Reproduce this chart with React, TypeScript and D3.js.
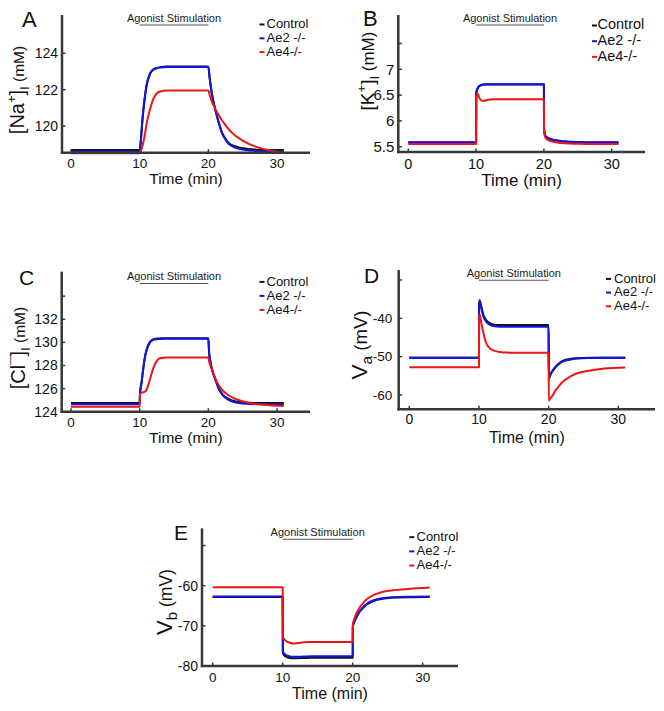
import React from "react";
import * as d3 from "d3";

// ---------- DATA ----------
const SERIES = ["Control", "Ae2 -/-", "Ae4-/-"];
const X_TICKS = [0, 10, 20, 30];
const STIM_WINDOW = [10, 20];
const STIM_LABEL = "Agonist Stimulation";

// Panel A: [Na+]i (mM)
const T_A = [0, 10, 10.2, 10.4, 10.7, 11, 11.5, 12, 12.5, 13, 14, 20, 20.2, 20.5, 21, 21.5, 22, 22.5, 23, 24, 25, 27, 29, 31];
const NA_CONTROL = [118.68, 118.68, 119.35, 120.35, 121.45, 122.25, 122.88, 123.12, 123.2, 123.24, 123.27, 123.27, 122.62, 121.82, 120.92, 120.22, 119.64, 119.3, 119.06, 118.87, 118.77, 118.7, 118.68, 118.68];
const NA_AE2 = [118.6, 118.6, 119.3, 120.3, 121.4, 122.2, 122.85, 123.1, 123.18, 123.22, 123.25, 123.25, 122.6, 121.8, 120.9, 120.2, 119.6, 119.25, 119.0, 118.8, 118.7, 118.63, 118.6, 118.6];
const NA_AE4 = [118.5, 118.5, 118.65, 118.9, 119.4, 120.1, 120.9, 121.5, 121.8, 121.9, 121.95, 121.95, 121.7, 121.35, 120.95, 120.6, 120.3, 120.05, 119.8, 119.45, 119.2, 118.85, 118.65, 118.52];
const NA_TICKS = [120, 122, 124];

// Panel B: [K+]i (mM)
const T_B = [0, 10, 10.02, 10.2, 10.5, 11, 11.5, 12, 13, 20, 20.02, 20.2, 20.5, 21, 22, 23, 25, 27, 31];
const K_CONTROL = [5.58, 5.58, 6.54, 6.62, 6.675, 6.7, 6.705, 6.705, 6.705, 6.705, 5.84, 5.715, 5.675, 5.645, 5.615, 5.6, 5.585, 5.58, 5.58];
const K_AE2 = [5.585, 5.585, 6.55, 6.63, 6.68, 6.705, 6.71, 6.71, 6.71, 6.71, 5.85, 5.72, 5.68, 5.65, 5.62, 5.605, 5.59, 5.585, 5.585];
const K_AE4 = [5.55, 5.55, 6.45, 6.53, 6.44, 6.385, 6.4, 6.415, 6.42, 6.42, 5.8, 5.68, 5.64, 5.61, 5.58, 5.565, 5.555, 5.55, 5.55];
const K_TICKS = [5.5, 6, 6.5, 7];
const K_MINOR = [7.5];

// Panel C: [Cl-]i (mM)
const T_C = [0, 10, 10.05, 10.3, 10.5, 10.8, 11, 11.5, 12, 12.5, 13, 14, 20, 20.1, 20.3, 20.6, 21, 21.5, 22, 23, 24, 26, 28, 31];
const CL_CONTROL = [124.75, 124.75, 125.55, 126.65, 127.65, 128.85, 129.35, 130.05, 130.27, 130.33, 130.35, 130.37, 130.37, 129.25, 128.35, 127.55, 126.85, 126.05, 125.55, 125.08, 124.88, 124.77, 124.75, 124.75];
const CL_AE2 = [124.65, 124.65, 125.5, 126.6, 127.6, 128.8, 129.3, 130.0, 130.22, 130.28, 130.3, 130.32, 130.32, 129.2, 128.3, 127.5, 126.8, 126.0, 125.5, 125.0, 124.8, 124.67, 124.65, 124.65];
const CL_AE4 = [124.43, 124.43, 125.5, 125.65, 125.68, 125.75, 125.9, 126.8, 127.8, 128.4, 128.62, 128.7, 128.7, 128.4, 128.0, 127.5, 126.9, 126.3, 125.9, 125.4, 125.1, 124.75, 124.6, 124.5];
const CL_TICKS = [124, 126, 128, 130, 132];
const CL_MINOR = [134];

// Panel D: Va (mV)
const T_D = [0, 10, 10.02, 10.1, 10.3, 10.6, 11, 11.5, 12, 13, 14, 20, 20.02, 20.2, 20.5, 21, 21.5, 22, 23, 24, 26, 28, 31];
const VA_CONTROL = [-50.3, -50.3, -36.3, -35.3, -36.6, -38.9, -40.4, -41.2, -41.6, -41.75, -41.75, -41.75, -55.7, -54.8, -53.8, -52.6, -51.7, -51.1, -50.6, -50.4, -50.3, -50.3, -50.3];
const VA_AE2 = [-50.3, -50.3, -36.5, -35.6, -37.0, -39.3, -40.8, -41.6, -42.0, -42.2, -42.2, -42.2, -55.9, -55.0, -54.0, -52.8, -51.9, -51.3, -50.8, -50.5, -50.35, -50.3, -50.3];
const VA_AE4 = [-52.75, -52.75, -40.0, -39.0, -40.8, -43.5, -46.3, -47.7, -48.3, -48.8, -48.95, -49.0, -61.5, -61.0, -60.3, -58.8, -57.6, -56.6, -55.3, -54.4, -53.6, -53.1, -52.8];
const VA_TICKS = [-60, -50, -40];
const VA_MINOR = [-30];

// Panel E: Vb (mV)
const T_E = [0, 10, 10.02, 10.2, 10.5, 11, 11.5, 12, 13, 14, 20, 20.02, 20.2, 20.5, 21, 21.5, 22, 23, 24, 26, 28, 31];
const VB_CONTROL = [-62.8, -62.8, -76.7, -77.3, -77.7, -78.0, -78.05, -78.05, -78.0, -77.95, -77.95, -70.2, -69.2, -68.0, -66.5, -65.5, -64.7, -63.8, -63.35, -62.95, -62.85, -62.8];
const VB_AE2 = [-62.7, -62.7, -76.3, -76.9, -77.3, -77.6, -77.7, -77.7, -77.65, -77.6, -77.6, -70.0, -69.0, -67.8, -66.3, -65.3, -64.5, -63.6, -63.2, -62.85, -62.75, -62.7];
const VB_AE4 = [-60.4, -60.4, -72.8, -73.3, -73.8, -74.2, -74.4, -74.35, -74.1, -74.0, -74.0, -69.5, -68.5, -67.0, -65.4, -64.3, -63.4, -62.3, -61.7, -61.1, -60.8, -60.45];
const VB_TICKS = [-80, -70, -60];
const VB_MINOR = [-50];

// ---------- STYLE / LAYOUT ----------
const FONT = '"Liberation Sans", Arial, Helvetica, sans-serif';
const COLORS = ["#111111", "#1212e6", "#ee1515"];
const AXIS = "#383838";

type Part = { t: string; size: number; dy: number };

interface PanelCfg {
  letter: string;
  letterX: number;
  letterY: number;
  letterSize: number;
  t: number[];
  series: number[][];
  yTicks: number[];
  yMinor: number[];
  x0: number;
  x30: number;
  yA: [number, number];
  yB: [number, number];
  left: number;
  right: number;
  top: number;
  bottom: number;
  xTickSize: number;
  yTickSize: number;
  yTickGap: number;
  xTickDy: number;
  stimY: number;
  legendDashX: number;
  legendTextX: number;
  legendY: number;
  legendGap: number;
  legendSize: number;
  xLabelY: number;
  xLabelSize: number;
  yLabelX: number;
  yLabelY: number;
  yLabel: Part[];
}

const naLabel: Part[] = [
  { t: "[Na", size: 20, dy: 0 },
  { t: "+", size: 13, dy: -8 },
  { t: "]", size: 20, dy: 8 },
  { t: "I", size: 13, dy: 5 },
  { t: " (mM)", size: 15.5, dy: -5 },
];
const kLabel: Part[] = [
  { t: "[K", size: 19, dy: 0 },
  { t: "+", size: 13, dy: -8 },
  { t: "]", size: 19, dy: 8 },
  { t: "I", size: 13, dy: 5 },
  { t: " (mM)", size: 17, dy: -5 },
];
const clLabel: Part[] = [
  { t: "[Cl", size: 20, dy: 0 },
  { t: "\u00AF", size: 15, dy: -4 },
  { t: "]", size: 20, dy: 4 },
  { t: "I", size: 13, dy: 5 },
  { t: " (mM)", size: 15.5, dy: -5 },
];
const vaLabel: Part[] = [
  { t: "V", size: 22.5, dy: 0 },
  { t: "a", size: 15.5, dy: 4.5 },
  { t: " (mV)", size: 18.5, dy: -4.5 },
];
const vbLabel: Part[] = [
  { t: "V", size: 22, dy: 0 },
  { t: "b", size: 15, dy: 5 },
  { t: " (mV)", size: 17.5, dy: -5 },
];

const PANELS: PanelCfg[] = [
  {
    letter: "A", letterX: 22, letterY: 27, letterSize: 22,
    t: T_A, series: [NA_CONTROL, NA_AE2, NA_AE4], yTicks: NA_TICKS, yMinor: [],
    x0: 71, x30: 277, yA: [120, 126], yB: [124, 53.3],
    left: 62, right: 310, top: 15, bottom: 152.7, xTickSize: 13.5, yTickSize: 14, yTickGap: 4, xTickDy: 15,
    stimY: 21.5,
    legendDashX: 259.5, legendTextX: 266.5, legendY: 28.3, legendGap: 13.8, legendSize: 13,
    xLabelY: 184, xLabelSize: 15.5, yLabelX: 24, yLabelY: 90, yLabel: naLabel,
  },
  {
    letter: "B", letterX: 363, letterY: 26, letterSize: 22,
    t: T_B, series: [K_CONTROL, K_AE2, K_AE4], yTicks: K_TICKS, yMinor: K_MINOR,
    x0: 408.3, x30: 611.7, yA: [5.5, 146.7], yB: [7, 69.3],
    left: 398.3, right: 645, top: 15, bottom: 152, xTickSize: 14.5, yTickSize: 15, yTickGap: 4, xTickDy: 17,
    stimY: 21.5,
    legendDashX: 592, legendTextX: 597.5, legendY: 29.3, legendGap: 15.7, legendSize: 14.5,
    xLabelY: 186, xLabelSize: 17, yLabelX: 373.5, yLabelY: 71, yLabel: kLabel,
  },
  {
    letter: "C", letterX: 19, letterY: 285, letterSize: 21,
    t: T_C, series: [CL_CONTROL, CL_AE2, CL_AE4], yTicks: CL_TICKS, yMinor: CL_MINOR,
    x0: 71, x30: 277, yA: [124, 411.7], yB: [132, 319.3],
    left: 61.7, right: 310, top: 271.7, bottom: 411.7, xTickSize: 13.5, yTickSize: 14, yTickGap: 4, xTickDy: 15,
    stimY: 280,
    legendDashX: 259.5, legendTextX: 266.5, legendY: 285.7, legendGap: 14, legendSize: 13,
    xLabelY: 443, xLabelSize: 15.5, yLabelX: 24.5, yLabelY: 348, yLabel: clLabel,
  },
  {
    letter: "D", letterX: 364, letterY: 283, letterSize: 21,
    t: T_D, series: [VA_CONTROL, VA_AE2, VA_AE4], yTicks: VA_TICKS, yMinor: VA_MINOR,
    x0: 409.3, x30: 618.3, yA: [-60, 395], yB: [-40, 318.3],
    left: 398.7, right: 655, top: 270, bottom: 409.3, xTickSize: 14, yTickSize: 13.5, yTickGap: 6.5, xTickDy: 15,
    stimY: 276.7,
    legendDashX: 606, legendTextX: 614, legendY: 282.7, legendGap: 13.7, legendSize: 13,
    xLabelY: 442.5, xLabelSize: 16, yLabelX: 367, yLabelY: 345, yLabel: vaLabel,
  },
  {
    letter: "E", letterX: 174, letterY: 540, letterSize: 21,
    t: T_E, series: [VB_CONTROL, VB_AE2, VB_AE4], yTicks: VB_TICKS, yMinor: VB_MINOR,
    x0: 212.7, x30: 422.7, yA: [-80, 666], yB: [-60, 585.7],
    left: 202, right: 458, top: 528.3, bottom: 666, xTickSize: 13.5, yTickSize: 14, yTickGap: 4, xTickDy: 15.5,
    stimY: 535.7,
    legendDashX: 409.3, legendTextX: 416.5, legendY: 541, legendGap: 14.2, legendSize: 13,
    xLabelY: 699, xLabelSize: 16, yLabelX: 172, yLabelY: 602, yLabel: vbLabel,
  },
];

function Panel({ c }: { c: PanelCfg }) {
  const x = d3.scaleLinear().domain([0, 30]).range([c.x0, c.x30]);
  const y = d3.scaleLinear().domain([c.yA[0], c.yB[0]]).range([c.yA[1], c.yB[1]]);
  const line = d3
    .line<number>()
    .x((_, i) => x(c.t[i]))
    .y((v) => y(v))
    .curve(d3.curveMonotoneX);
  const tickLen = 3.5;
  const stimMid = x((STIM_WINDOW[0] + STIM_WINDOW[1]) / 2);
  return (
    <g>
      <text x={c.letterX} y={c.letterY} fontSize={c.letterSize} fontFamily={FONT} fill="#111">
        {c.letter}
      </text>
      <text x={stimMid} y={c.stimY} fontSize={11} fontFamily={FONT} textAnchor="middle" fill="#222">
        {STIM_LABEL}
      </text>
      <line
        x1={x(STIM_WINDOW[0])}
        x2={x(STIM_WINDOW[1])}
        y1={c.stimY + 3.5}
        y2={c.stimY + 3.5}
        stroke="#555"
        strokeWidth={1.1}
      />
      {c.series.map((s, i) => (
        <path key={i} d={line(s) || ""} fill="none" stroke={COLORS[i]} strokeWidth={2} strokeLinejoin="round" />
      ))}
      <line x1={c.left} x2={c.left} y1={c.top} y2={c.bottom + 1.2} stroke={AXIS} strokeWidth={2.5} />
      <line x1={c.left - 1.2} x2={c.right} y1={c.bottom} y2={c.bottom} stroke={AXIS} strokeWidth={2.5} />
      {X_TICKS.map((v) => (
        <g key={"x" + v}>
          <line x1={x(v)} x2={x(v)} y1={c.bottom} y2={c.bottom - tickLen} stroke={AXIS} strokeWidth={1.5} />
          <text x={x(v)} y={c.bottom + c.xTickDy} fontSize={c.xTickSize} fontFamily={FONT} textAnchor="middle" fill="#111">
            {v}
          </text>
        </g>
      ))}
      {c.yTicks.map((v) => (
        <g key={"y" + v}>
          <line x1={c.left} x2={c.left + tickLen} y1={y(v)} y2={y(v)} stroke={AXIS} strokeWidth={1.5} />
          <text
            x={c.left - c.yTickGap}
            y={y(v)}
            dy="0.35em"
            fontSize={c.yTickSize}
            fontFamily={FONT}
            textAnchor="end"
            fill="#111"
          >
            {v}
          </text>
        </g>
      ))}
      {c.yMinor.map((v) => (
        <line key={"m" + v} x1={c.left} x2={c.left + tickLen} y1={y(v)} y2={y(v)} stroke={AXIS} strokeWidth={1.5} />
      ))}
      <text
        x={(c.left + c.right) / 2}
        y={c.xLabelY}
        fontSize={c.xLabelSize}
        fontFamily={FONT}
        textAnchor="middle"
        fill="#111"
      >
        Time (min)
      </text>
      <text
        transform={`translate(${c.yLabelX},${c.yLabelY}) rotate(-90)`}
        textAnchor="middle"
        fontFamily={FONT}
        fill="#111"
      >
        {c.yLabel.map((p, i) => (
          <tspan key={i} fontSize={p.size} dy={p.dy}>
            {p.t}
          </tspan>
        ))}
      </text>
      {SERIES.map((name, i) => {
        const yy = c.legendY + i * c.legendGap;
        return (
          <g key={name}>
            <line
              x1={c.legendDashX}
              x2={c.legendDashX + 5}
              y1={yy - 3.8}
              y2={yy - 3.8}
              stroke={COLORS[i]}
              strokeWidth={2}
            />
            <text x={c.legendTextX} y={yy} fontSize={c.legendSize} fontFamily={FONT} fill="#111">
              {name}
            </text>
          </g>
        );
      })}
    </g>
  );
}

export default function App() {
  return (
    <svg
      width={664}
      height={711}
      viewBox="0 0 664 711"
      style={{ position: "absolute", left: 0, top: 0, background: "#fff" }}
    >
      <rect x={0} y={0} width={664} height={711} fill="#fff" />
      {PANELS.map((c) => (
        <Panel key={c.letter} c={c} />
      ))}
    </svg>
  );
}
